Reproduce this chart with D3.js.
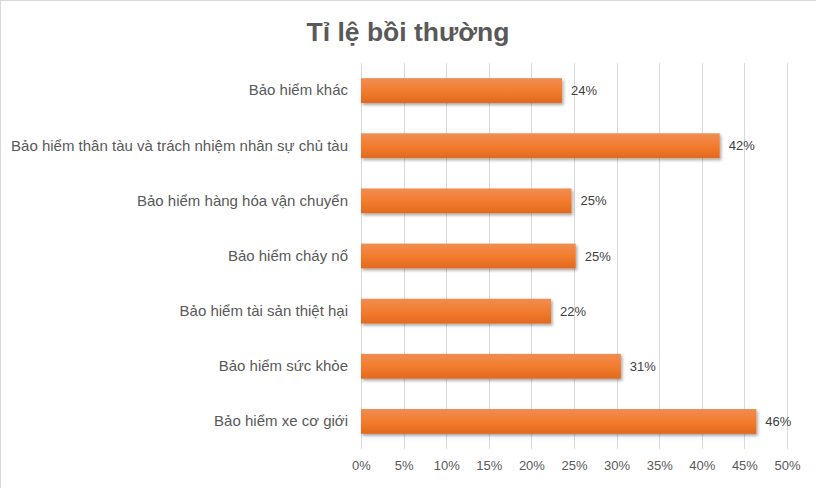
<!DOCTYPE html>
<html>
<head>
<meta charset="utf-8">
<script src="https://cdn.jsdelivr.net/npm/d3@7"></script>
<style>
  body { margin: 0; background: #fff; }
  svg { display: block; }
</style>
</head>
<body>
<svg id="chart" width="816" height="488"></svg>
<script>
// chart data
const categories = [
    "Bảo hiểm khác",
    "Bảo hiểm thân tàu và trách nhiệm nhân sự chủ tàu",
    "Bảo hiểm hàng hóa vận chuyển",
    "Bảo hiểm cháy nổ",
    "Bảo hiểm tài sản thiệt hại",
    "Bảo hiểm sức khỏe",
    "Bảo hiểm xe cơ giới"
];
const ratios = [0.236, 0.421, 0.247, 0.252, 0.223, 0.305, 0.464];
const tickValues = [0, 0.05, 0.10, 0.15, 0.20, 0.25, 0.30, 0.35, 0.40, 0.45, 0.50];
const title = "Tỉ lệ bồi thường";

const width = 816, height = 488;
const margin = { top: 63, right: 29, bottom: 39, left: 361 };

const svg = d3.select("#chart");

// light border of the chart area (only top and left are inside the picture)
svg.append("rect")
    .attr("x", 0.5).attr("y", 0.5)
    .attr("width", width + 10).attr("height", height + 10)
    .attr("fill", "none")
    .attr("stroke", "#d9d9d9");

// gradient + shadow for the bars
const defs = svg.append("defs");
const grad = defs.append("linearGradient")
    .attr("id", "barGrad")
    .attr("x1", 0).attr("y1", 0).attr("x2", 0).attr("y2", 1);
grad.append("stop").attr("offset", "0%").attr("stop-color", "#f18d52");
grad.append("stop").attr("offset", "50%").attr("stop-color", "#f27c2e");
grad.append("stop").attr("offset", "100%").attr("stop-color", "#e2691f");

const shadow = defs.append("filter")
    .attr("id", "barShadow")
    .attr("x", "-5%").attr("y", "-20%")
    .attr("width", "115%").attr("height", "160%");
shadow.append("feDropShadow")
    .attr("dx", 1.5).attr("dy", 2)
    .attr("stdDeviation", 1.6)
    .attr("flood-color", "#000")
    .attr("flood-opacity", 0.35);

const x = d3.scaleLinear()
    .domain([0, 0.5])
    .range([margin.left, width - margin.right]);

const y = d3.scaleBand()
    .domain(categories)
    .range([margin.top, height - margin.bottom])
    .paddingInner(0.55)
    .paddingOuter(0.275);

// vertical gridlines
svg.append("g")
    .selectAll("line")
    .data(tickValues)
    .join("line")
    .attr("x1", d => Math.round(x(d)) + 0.5)
    .attr("x2", d => Math.round(x(d)) + 0.5)
    .attr("y1", margin.top)
    .attr("y2", height - margin.bottom)
    .attr("stroke", "#d9d9d9")
    .attr("stroke-width", 1);

// x axis labels
const xAxis = svg.append("g")
    .attr("transform", `translate(0,${height - margin.bottom})`)
    .call(d3.axisBottom(x)
        .tickValues(tickValues)
        .tickFormat(d3.format(".0%"))
        .tickSize(0)
        .tickPadding(12));
xAxis.select(".domain").remove();
xAxis.selectAll("text")
    .attr("fill", "#595959")
    .style("font-family", "'Liberation Sans', Arial, sans-serif")
    .style("font-size", "13px");

// category labels
const yAxis = svg.append("g")
    .attr("transform", `translate(${margin.left},0)`)
    .call(d3.axisLeft(y).tickSize(0).tickPadding(13));
yAxis.select(".domain").remove();
yAxis.selectAll("text")
    .attr("fill", "#595959")
    .style("font-family", "'Liberation Sans', Arial, sans-serif")
    .style("font-size", "15px");

// bars
svg.append("g")
    .selectAll("rect")
    .data(ratios)
    .join("rect")
    .attr("x", x(0))
    .attr("y", (d, i) => y(categories[i]))
    .attr("width", d => x(d) - x(0))
    .attr("height", y.bandwidth())
    .attr("fill", "url(#barGrad)")
    .attr("filter", "url(#barShadow)");

// data labels
svg.append("g")
    .selectAll("text")
    .data(ratios)
    .join("text")
    .attr("x", d => x(d) + 9)
    .attr("y", (d, i) => y(categories[i]) + y.bandwidth() / 2)
    .attr("dy", "0.35em")
    .attr("fill", "#404040")
    .style("font-family", "'Liberation Sans', Arial, sans-serif")
    .style("font-size", "13px")
    .text(d => d3.format(".0%")(d));

// title
svg.append("text")
    .attr("x", 408)
    .attr("y", 41)
    .attr("text-anchor", "middle")
    .attr("fill", "#595959")
    .style("font-family", "'Liberation Sans', Arial, sans-serif")
    .style("font-size", "26.5px")
    .style("font-weight", "bold")
    .text(title);
</script>
</body>
</html>
